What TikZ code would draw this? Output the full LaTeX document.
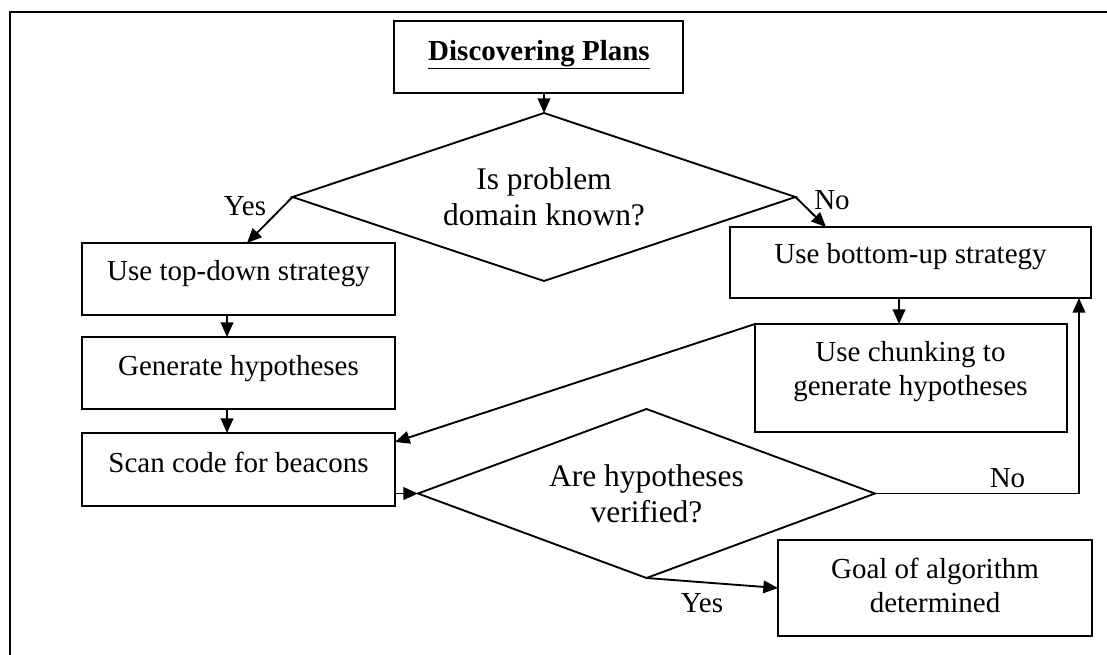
\documentclass[tikz,border=0pt]{standalone}
\usepackage{fontspec}
\setmainfont{Liberation Serif}
\usetikzlibrary{arrows.meta,shapes.geometric}
\begin{document}
\begin{tikzpicture}[x=0.75pt,y=-0.75pt,
  line width=1.4pt,
  box/.style={draw,rectangle,inner sep=0pt,outer sep=0pt},
  decision/.style={draw,diamond,inner sep=0pt,outer sep=0pt},
  txt/.style={anchor=base,inner sep=0pt,align=center,font=\fontsize{21.75}{25.5}\selectfont},
  qtxt/.style={anchor=base,inner sep=0pt,align=center,font=\fontsize{23.6}{26.5}\selectfont},
  arr/.style={-{Triangle[length=11pt,width=9.5pt]}},
]
\useasboundingbox (0,0) rectangle (1107,654);

% page frame
\draw (1120,12) -- (10,12) -- (10,670);

% process boxes
\node[box, minimum width=216.75pt, minimum height=54pt]   (title) at (538.5,57)  {};
\node[box, minimum width=234.75pt, minimum height=54pt]   (td)    at (238.5,279) {};
\node[box, minimum width=234.75pt, minimum height=54pt]   (gen)   at (238.5,373) {};
\node[box, minimum width=234.75pt, minimum height=54.75pt](scan)  at (238.5,469.5) {};
\node[box, minimum width=270.75pt, minimum height=53.25pt](bu)    at (910.5,262.5) {};
\node[box, minimum width=234pt,    minimum height=81pt]   (chunk) at (911,378)   {};
\node[box, minimum width=235.5pt,  minimum height=72pt]   (goal)  at (935,588)   {};

% decisions
\node[decision, minimum width=377.25pt, minimum height=126pt]   (d1) at (544,197)   {};
\node[decision, minimum width=342.75pt, minimum height=126.75pt](d2) at (646.5,493.5) {};

% texts (multi-line nodes sit on the baseline of their last line)
\node[txt, font=\fontsize{21.75}{25.5}\selectfont\bfseries] (titletext) at (539,60) {\underline{Discovering Plans}};
\node[txt] (tdtext)    at (238.5,280) {Use top-down strategy};
\node[txt] (gentext)   at (238.5,375) {Generate hypotheses};
\node[txt] (scantext)  at (238.5,472) {Scan code for beacons};
\node[txt] (butext)    at (910.5,263) {Use bottom-up strategy};
\node[txt] (chunktext) at (910.5,395) {Use chunking to\\generate hypotheses};
\node[txt] (goaltext)  at (935,612)   {Goal of algorithm\\determined};
\node[qtxt] (d1text)   at (544,225)   {Is problem\\domain known?};
\node[qtxt] (d2text)   at (646.5,522) {Are hypotheses\\verified?};

% branch labels
\node[txt] (yes1) at (245,215)    {Yes};
\node[txt] (no1)  at (832,209)    {No};
\node[txt] (no2)  at (1007.5,487) {No};
\node[txt] (yes2) at (702,612)    {Yes};

% connectors
\draw[arr] (title.south -| d1.north) -- (d1.north);
\draw[arr] (d1.west) -- ([xshift=6.4pt]td.north);
\draw[arr] (d1.east) -- ([xshift=72pt]bu.north west);
\coordinate (tdout)  at ([xshift=-8.6pt]td.south);
\coordinate (genout) at ([xshift=-8.6pt]gen.south);
\coordinate (buout)  at ([xshift=-8.6pt]bu.south);
\draw[arr] (tdout) -- (tdout |- gen.north);
\draw[arr] (genout) -- (genout |- scan.north);
\draw[arr] (buout) -- (buout |- chunk.north);
\draw[arr] (chunk.north west) -- ([yshift=-6.75pt]scan.north east);
\draw[arr] (scan.east |- d2.west) -- (d2.west);
\coordinate (loopend) at ([xshift=-9pt]bu.south east);
\draw[arr] (d2.east) -| (loopend);
\draw[arr] (d2.south) -- (goal.west);
\end{tikzpicture}
\end{document}
